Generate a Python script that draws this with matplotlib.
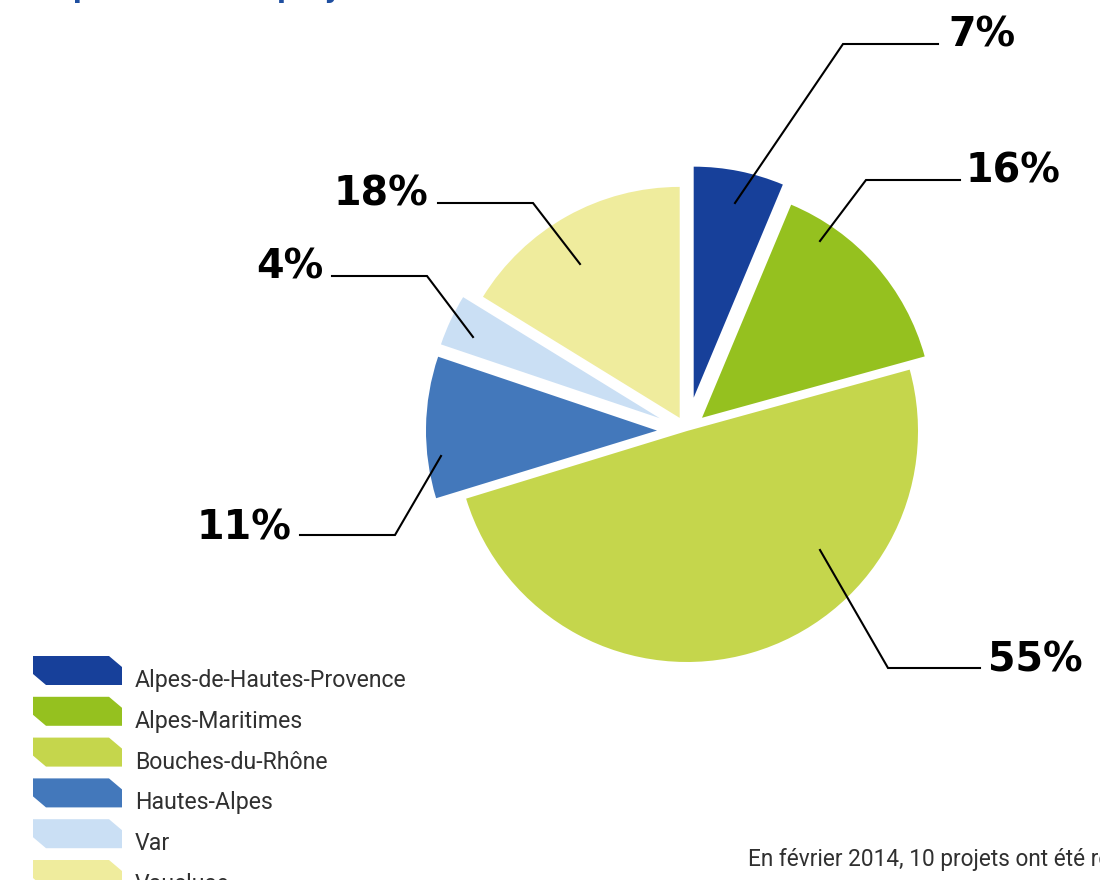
import matplotlib
matplotlib.use("Agg")
import matplotlib.pyplot as plt
from matplotlib.patches import Polygon

# ---- data ----
departments = ["Alpes-de-Hautes-Provence", "Alpes-Maritimes", "Bouches-du-Rhône",
               "Hautes-Alpes", "Var", "Vaucluse"]
shares = [7, 16, 55, 11, 4, 18]
pct_labels = ["7%", "16%", "55%", "11%", "4%", "18%"]
colors = ["#17409A", "#95C11F", "#C5D64C", "#4378BB", "#CADFF4", "#EFEC9D"]

title_text = "Répartition des projets"
note_text = "En février 2014, 10 projets ont été retenus"

# ---- layout (pixel coordinates, y measured from top) ----
W, H = 1100, 880
center_px = (687, 431)
radius_px = 231
explode_px = [34, 20, 0, 30, 30, 15]
# leader: start inside slice, elbow, end of horizontal segment
leaders = [
    ((735, 203), (843, 44), (938, 44)),
    ((820, 241), (866, 180), (960, 180)),
    ((820, 550), (888, 668), (980, 668)),
    ((441, 456), (395, 535), (300, 535)),
    ((473, 337), (427, 276), (332, 276)),
    ((580, 264), (533, 203), (438, 203)),
]
label_pos = [(948, 46, "left"), (966, 182, "left"), (988, 671, "left"),
             (291, 539, "right"), (323, 278, "right"), (428, 205, "right")]

legend_x, legend_top, legend_pitch = 33, 656, 40.8
chip_w, chip_h, cut_x, cut_y = 89, 29, 13, 11


def fy(y):
    return H - y


fig = plt.figure(figsize=(W / 100, H / 100), dpi=100)
fig.patch.set_facecolor("white")
ax = fig.add_axes([0, 0, 1, 1])

ax.pie(shares, colors=colors, startangle=90, counterclock=False,
       explode=explode_px, radius=radius_px,
       center=(center_px[0], fy(center_px[1])),
       wedgeprops=dict(linewidth=0))
ax.set_xlim(0, W)
ax.set_ylim(0, H)
ax.set_aspect("equal")
ax.axis("off")

for (s, e, t), lab, (tx, ty, ha) in zip(leaders, pct_labels, label_pos):
    ax.plot([s[0], e[0], t[0]], [fy(s[1]), fy(e[1]), fy(t[1])],
            color="black", lw=1.5, solid_joinstyle="miter")
    ax.text(tx, fy(ty), lab, ha=ha, va="baseline", fontsize=28.5,
            fontweight="bold", family="DejaVu Sans", color="black")

# legend with chevron-shaped chips
for i, (name, col) in enumerate(zip(departments, colors)):
    top = legend_top + i * legend_pitch
    x0 = legend_x
    verts = [(x0, top), (x0 + chip_w - cut_x, top), (x0 + chip_w, top + cut_y),
             (x0 + chip_w, top + chip_h), (x0 + cut_x, top + chip_h),
             (x0, top + chip_h - cut_y)]
    ax.add_patch(Polygon([(vx, fy(vy)) for vx, vy in verts], closed=True,
                         facecolor=col, edgecolor="none", clip_on=False))
    ax.text(135, fy(top + 31), name, ha="left", va="baseline",
            fontsize=16.7, family="Roboto", color="#303030", clip_on=False)

ax.text(748, fy(866), note_text, fontsize=16.3, family="Roboto",
        color="#303030", va="baseline", ha="left")

fig.text(34 / W, 1 + 2.5 / H, title_text, fontsize=19.3, fontweight="bold",
         color="#1F4FA0", va="baseline", ha="left", family="DejaVu Sans")

fig.savefig("out.png", dpi=100, facecolor="white")
